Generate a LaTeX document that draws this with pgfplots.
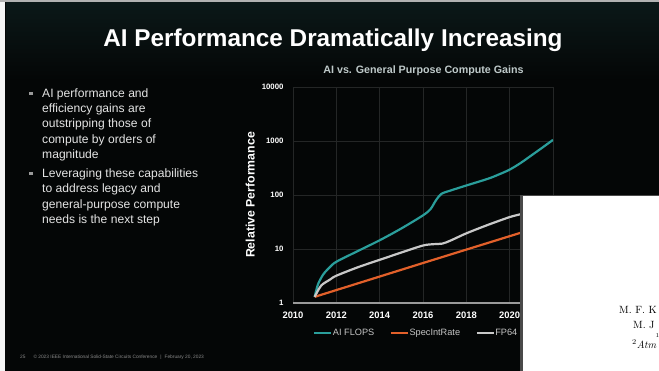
\documentclass[border=0pt]{standalone}
\usepackage{pgfplots}
\pgfplotsset{compat=1.18}
\usepackage{fontspec}
\newfontfamily\arial{Liberation Sans}
\definecolor{bg}{HTML}{040606}
\definecolor{topglow}{HTML}{0B1818}
\definecolor{ctitle}{HTML}{BFCACA}
\definecolor{gridc}{HTML}{242626}
\definecolor{axc}{HTML}{9A9A9A}
\definecolor{cyanc}{HTML}{2A9E9B}
\definecolor{orangec}{HTML}{E2602A}
\definecolor{grayc}{HTML}{C8C8C8}
\definecolor{bullettext}{HTML}{E4E4E4}
\definecolor{legtext}{HTML}{C4C4C4}
\definecolor{footc}{HTML}{8A8A8A}
\definecolor{boxedge}{HTML}{4A4A4A}
\begin{document}
\begin{tikzpicture}[x=1pt,y=1pt]
\useasboundingbox (0,0) rectangle (659,371);
\fill[bg] (0,0) rectangle (659,371);
\shade[top color=topglow, bottom color=bg] (6,290) rectangle (659,368);
\fill[white!92!gray] (0,0) rectangle (5,371);
\fill[gray!60] (0,368.5) rectangle (659,371);
% slide title
\node[anchor=base, text=white, inner sep=0,
      font=\arial\bfseries\fontsize{24.3}{28}\selectfont] at (333,324)
      {AI Performance Dramatically Increasing};
% chart title
\node[anchor=base, text=ctitle, inner sep=0,
      font=\arial\bfseries\fontsize{10.7}{12}\selectfont] at (423.5,297.5)
      {AI vs. General Purpose Compute Gains};
% bullets
\fill[gray!80] (29.4,276.1) rectangle (32.6,279.3);
\fill[gray!80] (29.4,195.7) rectangle (32.6,198.9);
\foreach \t/\yy in {AI performance and/273.5, efficiency gains are/258.3,
   outstripping those of/243.1, compute by orders of/227.9, magnitude/212.7,
   Leveraging these capabilities/193.3, to address legacy and/178.1,
   general-purpose compute/162.9, needs is the next step/147.7}{
  \node[anchor=base west, inner sep=0, text=bullettext,
        font=\arial\fontsize{12.1}{14}\selectfont] at (42,\yy) {\t};
}
% footer
\node[anchor=base west, text=footc, inner sep=0,
      font=\arial\fontsize{4.8}{5}\selectfont] at (20,12)
      {25\hspace{8pt}© 2023 IEEE International Solid-State Circuits Conference\hspace{3pt}|\hspace{3pt}February 20, 2023};
\begin{axis}[
  at={(293pt,68pt)}, anchor=south west,
  scale only axis, width=260pt, height=216pt,
  xmin=2010, xmax=2022, ymode=log, ymin=1, ymax=10000,
  xtick={2010,2012,2014,2016,2018,2020,2022},
  xticklabels={2010,2012,2014,2016,2018,2020,2022},
  ytick={1,10,100,1000,10000},
  yticklabels={1,10,100,1000,10000},
  grid=major,
  major grid style={draw=gridc, line width=0.9pt},
  axis x line*=bottom, axis y line*=left,
  x axis line style={draw=axc, line width=1.4pt},
  y axis line style={draw=none},
  tick style={draw=none},
  major tick length=0pt,
  /pgf/number format/assume math mode=true,
  xticklabel style={font=\arial\bfseries\fontsize{9.4}{10}\selectfont, text=white},
  yticklabel style={font=\arial\bfseries\fontsize{7.8}{9}\selectfont, text=white},
  xticklabel shift=5.5pt, yticklabel shift=6pt,
  ylabel={Relative Performance},
  ylabel style={font=\arial\bfseries\fontsize{12.3}{14}\selectfont, text=white,
                at={(axis description cs:-0.165,0.5)}, anchor=center},
  legend style={at={(axis description cs:0.077,-0.138)}, anchor=west,
                draw=none, fill=none, legend columns=3, inner sep=0pt,
                font=\arial\fontsize{9.2}{10}\selectfont, text=legtext,
                nodes={inner xsep=0.5pt, inner ysep=1pt},
                /tikz/every odd column/.append style={column sep=0pt},
                /tikz/every even column/.append style={column sep=15pt}},
  legend image code/.code={\draw[#1, line width=2.2pt] (0pt,0pt) -- (17pt,0pt);},
]
\addplot[color=cyanc, line width=2.2pt, smooth, tension=0.5] coordinates {
 (2011,1.3) (2011.15,2.2) (2011.4,3.4) (2011.7,4.6) (2012,5.8) (2013,9.2)
 (2014,14.5) (2015,24) (2016,42) (2016.35,55) (2016.6,80) (2016.85,105)
 (2017.3,122) (2018,150) (2019,200) (2019.5,240) (2020,295) (2020.5,390)
 (2021,540) (2021.5,750) (2022,1050)};
\addlegendentry{AI FLOPS}
\addplot[color=orangec, line width=2.2pt] coordinates {
 (2011,1.3) (2016,5.5) (2021,23)};
\addlegendentry{SpecIntRate}
\addplot[color=grayc, line width=2.2pt, smooth, tension=0.5] coordinates {
 (2011,1.3) (2011.3,2.1) (2011.7,2.7) (2012,3.2) (2013,4.6) (2014,6.3)
 (2015,8.6) (2016,11.6) (2016.5,12.3) (2016.9,12.6) (2017.3,14.5) (2018,19.5)
 (2019,28) (2020,39) (2020.5,44) (2021,50)};
\addlegendentry{FP64 FLOPS}
\end{axis}
% overlapping white page
\fill[boxedge] (519.5,0) rectangle (659,176);
\fill[white] (523,0) rectangle (659,174.5);
\node[anchor=base west, inner sep=0, font=\fontsize{10.5}{12}\selectfont] at (619,57) {M. F. K};
\node[anchor=base west, inner sep=0, font=\fontsize{10.5}{12}\selectfont] at (633,42) {M. J};
\node[anchor=base west, inner sep=0, font=\fontsize{6}{7}\selectfont] at (655.5,33) {1};
\node[anchor=base west, inner sep=0, font=\fontsize{10.5}{12}\selectfont] at (632,22.5) {\textsuperscript{2}\textit{Atm}};
\end{tikzpicture}
\end{document}
